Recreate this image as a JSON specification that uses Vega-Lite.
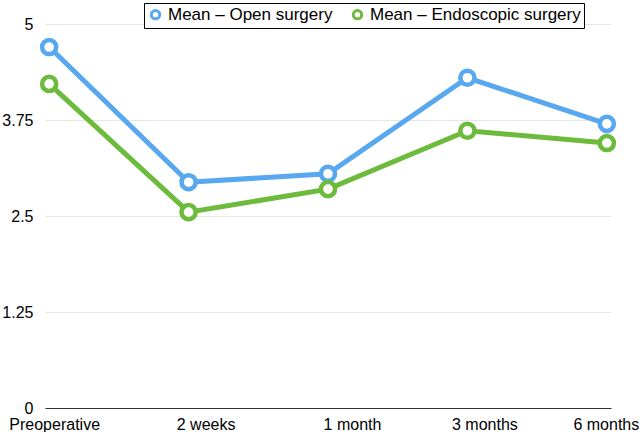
{
  "$schema": "https://vega.github.io/schema/vega-lite/v6.json",
  "width": 566,
  "height": 384,
  "padding": {"left": 1, "top": 2, "right": 0, "bottom": 0},
  "background": "white",
  "config": {"view": {"stroke": null}, "font": "Liberation Sans"},
  "data": {
    "values": [
      {"time": "Preoperative", "series": "Mean – Open surgery", "value": 4.70},
      {"time": "2 weeks", "series": "Mean – Open surgery", "value": 2.94},
      {"time": "1 month", "series": "Mean – Open surgery", "value": 3.05},
      {"time": "3 months", "series": "Mean – Open surgery", "value": 4.30},
      {"time": "6 months", "series": "Mean – Open surgery", "value": 3.70},
      {"time": "Preoperative", "series": "Mean – Endoscopic surgery", "value": 4.22},
      {"time": "2 weeks", "series": "Mean – Endoscopic surgery", "value": 2.55},
      {"time": "1 month", "series": "Mean – Endoscopic surgery", "value": 2.85},
      {"time": "3 months", "series": "Mean – Endoscopic surgery", "value": 3.61},
      {"time": "6 months", "series": "Mean – Endoscopic surgery", "value": 3.45}
    ]
  },
  "encoding": {
    "x": {
      "field": "time",
      "type": "ordinal",
      "sort": ["Preoperative", "2 weeks", "1 month", "3 months", "6 months"],
      "scale": {"type": "point", "padding": 0.03},
      "axis": {
        "title": null,
        "labelAngle": 0,
        "labelFontSize": 16,
        "labelColor": "#000",
        "labelPadding": 8,
        "ticks": false,
        "domainColor": "#333",
        "domainWidth": 1.2,
        "labelOffset": {"expr": "datum.value == 'Preoperative' ? 5 : datum.value == '6 months' ? -1 : datum.value == '1 month' ? 24 : 17"}
      }
    },
    "y": {
      "field": "value",
      "type": "quantitative",
      "scale": {"domain": [0, 5], "nice": false},
      "axis": {
        "title": null,
        "values": [0, 1.25, 2.5, 3.75, 5],
        "labelFontSize": 16,
        "labelColor": "#000",
        "labelPadding": 12,
        "ticks": false,
        "domain": false,
        "gridColor": "#e6e6e6",
        "labelExpr": "datum.value"
      }
    },
    "color": {
      "field": "series",
      "type": "nominal",
      "scale": {
        "domain": ["Mean – Open surgery", "Mean – Endoscopic surgery"],
        "range": ["#58a8f0", "#6dbb3c"]
      },
      "legend": {
        "title": null,
        "orient": "none",
        "legendX": 99,
        "legendY": -21,
        "direction": "horizontal",
        "strokeColor": "#000",
        "padding": 3,
        "labelFontSize": 17,
        "labelLimit": 400,
        "labelColor": "#000",
        "symbolType": "circle",
        "symbolFillColor": "white",
        "symbolStrokeWidth": 3,
        "symbolSize": 70,
        "columnPadding": 14,
        "fillColor": "white"
      }
    }
  },
  "layer": [
    {"mark": {"type": "line", "strokeWidth": 5}},
    {"mark": {"type": "point", "shape": "circle", "filled": false, "fill": "white", "size": 200, "strokeWidth": 4.5, "opacity": 1}}
  ]
}
